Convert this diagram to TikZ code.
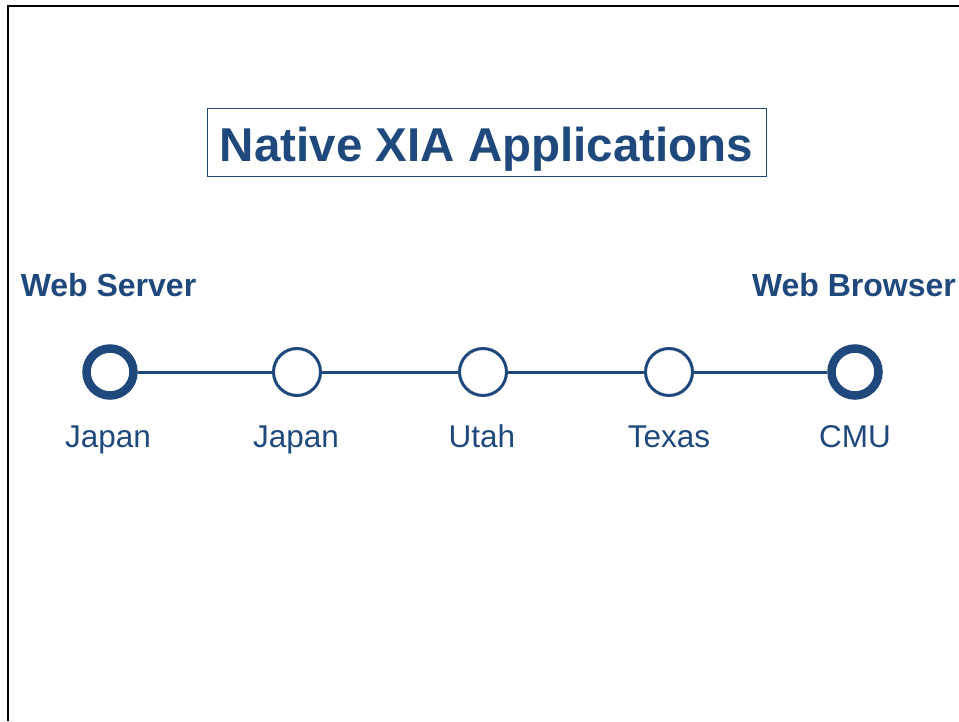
\documentclass[tikz,border=0pt]{standalone}
\usepackage{fontspec}
\setmainfont{Liberation Sans}
\definecolor{xiablue}{RGB}{31,73,125}
\begin{document}
\begin{tikzpicture}[x=1pt,y=-1pt,
  hop/.style={circle,draw=xiablue,line width=3pt,fill=white,minimum size=47pt,inner sep=0pt},
  endhost/.style={hop,line width=8.5pt},
  link/.style={draw=xiablue,line width=3pt},
  place/.style={text=xiablue,font=\fontsize{31.5}{36}\selectfont,anchor=base},
  role/.style={text=xiablue,font=\bfseries\fontsize{32}{37}\selectfont,anchor=base}]
\useasboundingbox (0,0) rectangle (959,721);
% page frame
\draw[line width=2.5pt] (8,721) -- (8,6) -- (959,6);
% title
\node[draw=xiablue,line width=1pt,text=xiablue,font=\bfseries\fontsize{47.5}{56}\selectfont,
      minimum width=559pt,minimum height=68pt,inner sep=0pt,text height=38pt,text depth=0pt]
      (title) at (486.5,142) {Native XIA Applications};
% hosts and routers
\node[endhost] (n1) at (110,372) {};
\node[hop] (n2) at (297,372) {};
\node[hop] (n3) at (483,372) {};
\node[hop] (n4) at (669,372) {};
\node[endhost] (n5) at (855,372) {};
\path[link] (n1) -- (n2);
\path[link] (n2) -- (n3);
\path[link] (n3) -- (n4);
\path[link] (n4) -- (n5);
% labels
\node[role] (srv) at (108.5,296) {Web Server};
\node[role] (brw) at (854,296) {Web Browser};
\node[place] (l1) at (108,447) {Japan};
\node[place] (l2) at (296,447) {Japan};
\node[place] (l3) at (482,447) {Utah};
\node[place] (l4) at (669,447) {Texas};
\node[place] (l5) at (855,447) {CMU};
\end{tikzpicture}
\end{document}
